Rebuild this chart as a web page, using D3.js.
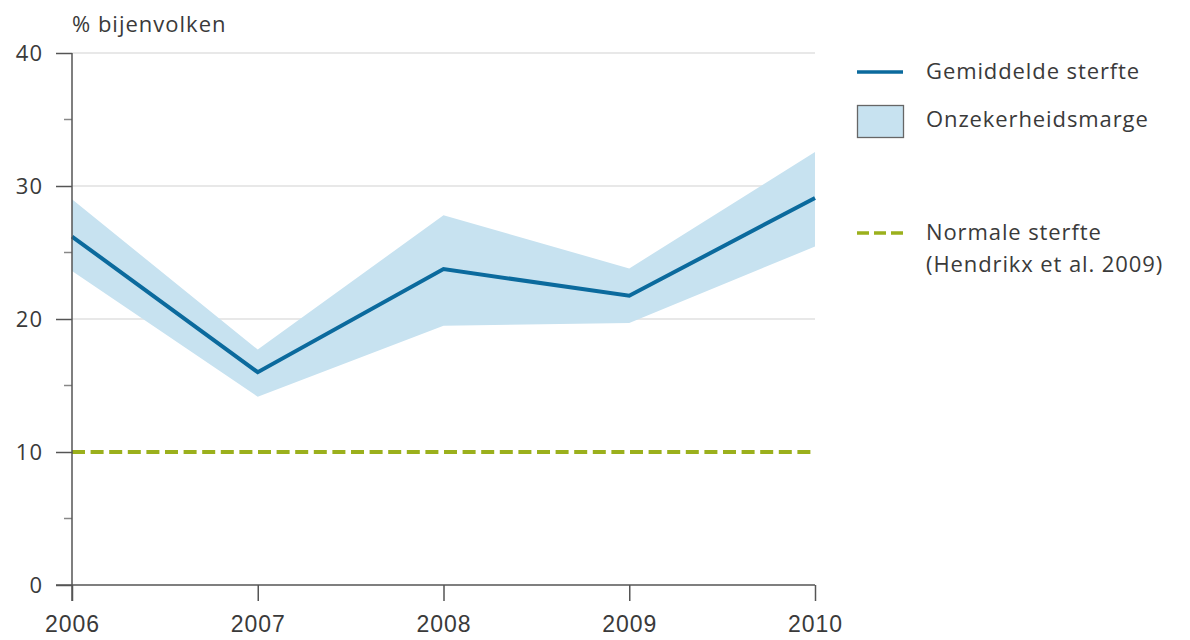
<!DOCTYPE html>
<html><head><meta charset="utf-8">
<script src="https://cdn.jsdelivr.net/npm/d3@7"></script>
<style>
html,body{margin:0;padding:0;background:#fff;}
svg{display:block;font-family:"Open Sans","Noto Sans",sans-serif;}
</style></head>
<body>
<svg id="chart" width="1190" height="640"></svg>
<script>
const years = [2006, 2007, 2008, 2009, 2010];
const meanMortality = [26.2, 16.0, 23.75, 21.75, 29.1];
const upperBound = [29.0, 17.7, 27.8, 23.8, 32.55];
const lowerBound = [23.6, 14.15, 19.5, 19.7, 25.45];
const normalMortality = 10;
const yTicks = [0, 10, 20, 30, 40];
const yMinorTicks = [5, 15, 25, 35];
const legendLabels = ["Gemiddelde sterfte", "Onzekerheidsmarge", "Normale sterfte", "(Hendrikx et al. 2009)"];
const yTitle = "% bijenvolken";

const svg = d3.select("#chart");
const x = d3.scaleLinear().domain([2006, 2010]).range([72, 815]);
const y = d3.scaleLinear().domain([0, 40]).range([585, 53]);
const textCol = "#3a3a3a";
const axisCol = "#555";
const blue = "#0b6a9d";
const green = "#9bb01c";

// gridlines
svg.append("g").selectAll("line").data([20, 30, 40]).join("line")
  .attr("x1", x(2006)).attr("x2", x(2010))
  .attr("y1", d => y(d)).attr("y2", d => y(d))
  .attr("stroke", "#e0e0e0").attr("stroke-width", 1.5);

// band
const data = years.map((yr, i) => ({yr, m: meanMortality[i], lo: lowerBound[i], hi: upperBound[i]}));
svg.append("path").datum(data)
  .attr("d", d3.area().x(d => x(d.yr)).y0(d => y(d.lo)).y1(d => y(d.hi)))
  .attr("fill", "#c7e2f0");

// normal line
svg.append("line")
  .attr("x1", x(2006)).attr("x2", x(2010) - 2)
  .attr("y1", y(normalMortality)).attr("y2", y(normalMortality))
  .attr("stroke", green).attr("stroke-width", 4)
  .attr("stroke-dasharray", "13,5.6");

// mean line
svg.append("path").datum(data)
  .attr("d", d3.line().x(d => x(d.yr)).y(d => y(d.m)))
  .attr("fill", "none").attr("stroke", blue).attr("stroke-width", 4)
  .attr("stroke-linejoin", "miter");

// y axis
const yAxis = d3.axisLeft(y).tickValues(yTicks).tickSize(16).tickPadding(13).tickFormat(d3.format("d"));
const gy = svg.append("g").attr("transform", `translate(${x(2006)},0)`).call(yAxis);
gy.select(".domain").remove();
gy.selectAll(".tick line").attr("stroke", axisCol).attr("stroke-width", 1.5);
gy.selectAll(".tick text").attr("fill", textCol).attr("font-size", 22)
  .attr("letter-spacing", 1).attr("font-family", "Open Sans");
svg.append("g").selectAll("line").data(yMinorTicks).join("line")
  .attr("x1", x(2006) - 8).attr("x2", x(2006))
  .attr("y1", d => y(d)).attr("y2", d => y(d))
  .attr("stroke", "#888").attr("stroke-width", 1.5);
svg.append("line").attr("x1", x(2006)).attr("x2", x(2006))
  .attr("y1", y(40)).attr("y2", y(0) + 16).attr("stroke", axisCol).attr("stroke-width", 1.5);

// x axis
const xAxis = d3.axisBottom(x).tickValues(years).tickSize(16).tickPadding(12).tickFormat(d3.format("d"));
const gx = svg.append("g").attr("transform", `translate(0,${y(0)})`).call(xAxis);
gx.select(".domain").remove();
gx.selectAll(".tick line").attr("stroke", axisCol).attr("stroke-width", 1.5);
gx.selectAll(".tick text").attr("fill", textCol).attr("font-size", 23)
  .attr("letter-spacing", 1).attr("dy", null).attr("y", 47);
svg.append("line").attr("x1", x(2006) - 16).attr("x2", x(2010))
  .attr("y1", y(0)).attr("y2", y(0)).attr("stroke", axisCol).attr("stroke-width", 1.5);

// y title
svg.append("text").attr("x", 72).attr("y", 32).attr("fill", textCol)
  .attr("font-size", 22).attr("letter-spacing", 1).text(yTitle);

// legend
const lg = svg.append("g").attr("font-size", 22).attr("letter-spacing", 0.9).attr("fill", textCol);
lg.append("line").attr("x1", 857).attr("x2", 903).attr("y1", 72).attr("y2", 72)
  .attr("stroke", blue).attr("stroke-width", 3.5);
lg.append("text").attr("x", 926).attr("y", 79).text(legendLabels[0]);
lg.append("rect").attr("x", 857.5).attr("y", 105.5).attr("width", 46).attr("height", 32)
  .attr("fill", "#c7e2f0").attr("stroke", "#666").attr("stroke-width", 1.3);
lg.append("text").attr("x", 926).attr("y", 127).text(legendLabels[1]);
lg.append("line").attr("x1", 857).attr("x2", 903).attr("y1", 233).attr("y2", 233)
  .attr("stroke", green).attr("stroke-width", 3.5)
  .attr("stroke-dasharray", "12,5");
lg.append("text").attr("x", 926).attr("y", 240).text(legendLabels[2]);
lg.append("text").attr("x", 926).attr("y", 272).text(legendLabels[3]);
</script>
</body></html>
